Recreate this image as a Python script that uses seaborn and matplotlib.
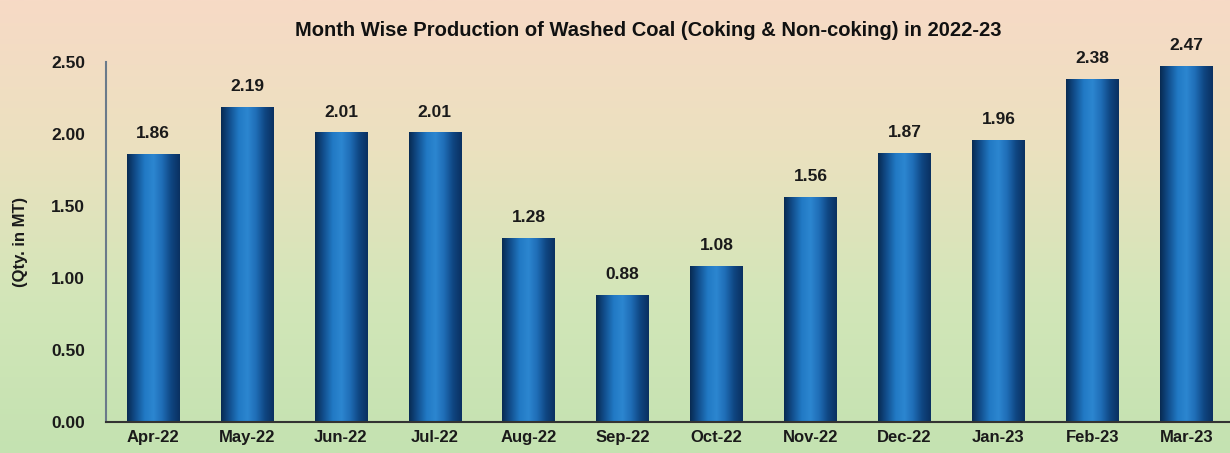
import numpy as np
import pandas as pd
import matplotlib
matplotlib.use("Agg")
import matplotlib.pyplot as plt
import seaborn as sns
from matplotlib.colors import LinearSegmentedColormap
from matplotlib import font_manager

months = ["Apr-22", "May-22", "Jun-22", "Jul-22", "Aug-22", "Sep-22",
          "Oct-22", "Nov-22", "Dec-22", "Jan-23", "Feb-23", "Mar-23"]
values = [1.86, 2.19, 2.01, 2.01, 1.28, 0.88, 1.08, 1.56, 1.87, 1.96, 2.38, 2.47]
yticks = [0.00, 0.50, 1.00, 1.50, 2.00, 2.50]
title = "Month Wise Production of Washed Coal (Coking & Non-coking) in 2022-23"
ylabel = "(Qty. in MT)"

sns.set_theme(style="white")
names = {f.name for f in font_manager.fontManager.ttflist}
fam = ["Liberation Sans Narrow", "Liberation Sans", "DejaVu Sans"]
fam = [f for f in fam if f in names] or ["DejaVu Sans"]
plt.rcParams["font.family"] = fam

fig = plt.figure(figsize=(12.3, 4.53), dpi=100)

# background gradient
bg = fig.add_axes([0, 0, 1, 1], zorder=-10)
bg_cmap = LinearSegmentedColormap.from_list("bg", ["#f7dac6", "#ebe1bf", "#d2e6b8", "#c4e2b1"])
grad = np.linspace(0, 1, 256).reshape(-1, 1)
bg.imshow(grad, aspect="auto", cmap=bg_cmap, extent=[0, 1, 0, 1], origin="upper")
bg.set_axis_off()

ax = fig.add_axes([0.0862, 0.0684, 0.9165, 0.795])
ax.patch.set_alpha(0)
df = pd.DataFrame({"month": months, "value": values})
sns.barplot(data=df, x="month", y="value", ax=ax, color="#1f6fb8", width=0.56,
            saturation=1, edgecolor="none")

ax.set_ylim(0, 2.5)
ax.set_xlim(-0.5, len(months) - 0.5)
ax.set_yticks(yticks)
ax.set_yticklabels([f"{v:.2f}" for v in yticks], fontsize=12.5, fontweight="bold", color="#1a1a1a")
ax.set_xticks(range(len(months)))
ax.set_xticklabels(months, fontsize=12, fontweight="bold", color="#1a1a1a")
ax.set_xlabel("")
ax.set_ylabel(ylabel, fontsize=12, fontweight="bold", color="#1a1a1a")
ax.yaxis.set_label_coords((28 - 106) / 1127, 0.5)

for s in ["top", "right"]:
    ax.spines[s].set_visible(False)
ax.spines["left"].set_color("#6a7a8a")
ax.spines["left"].set_linewidth(1.5)
ax.spines["bottom"].set_color("#333333")
ax.spines["bottom"].set_linewidth(1.5)
ax.tick_params(axis="y", length=0, pad=15)
ax.tick_params(axis="x", length=0, pad=6)
ax.set_xticks(np.arange(-0.5, len(months), 1.0), minor=True)
ax.tick_params(axis="x", which="minor", length=5, direction="out", color="#333333", width=1.2)

# cylinder shading on bars
bar_cmap = LinearSegmentedColormap.from_list(
    "bar", ["#082a52", "#12508f", "#2179c4", "#2c86d0", "#1f6db6", "#0f4682", "#0a3060"])
shade = np.linspace(0, 1, 256).reshape(1, -1)
for p in ax.patches:
    x0, y0 = p.get_x(), p.get_y()
    w, h = p.get_width(), p.get_height()
    im = ax.imshow(shade, aspect="auto", cmap=bar_cmap, extent=[x0, x0 + w, y0, y0 + h],
                   zorder=p.get_zorder() + 0.1)
    im.set_clip_path(p)
    ax.text(x0 + w / 2, y0 + h + 0.09, f"{h:.2f}", ha="center", va="bottom",
            fontsize=12.5, fontweight="bold", color="#1a1a1a")
ax.set_xlim(-0.5, len(months) - 0.5)
ax.set_ylim(0, 2.5)

fig.text(0.527, 0.933, title, ha="center", va="center", fontsize=14.5,
         fontweight="bold", color="#111111")

fig.savefig("out.png", dpi=100)
